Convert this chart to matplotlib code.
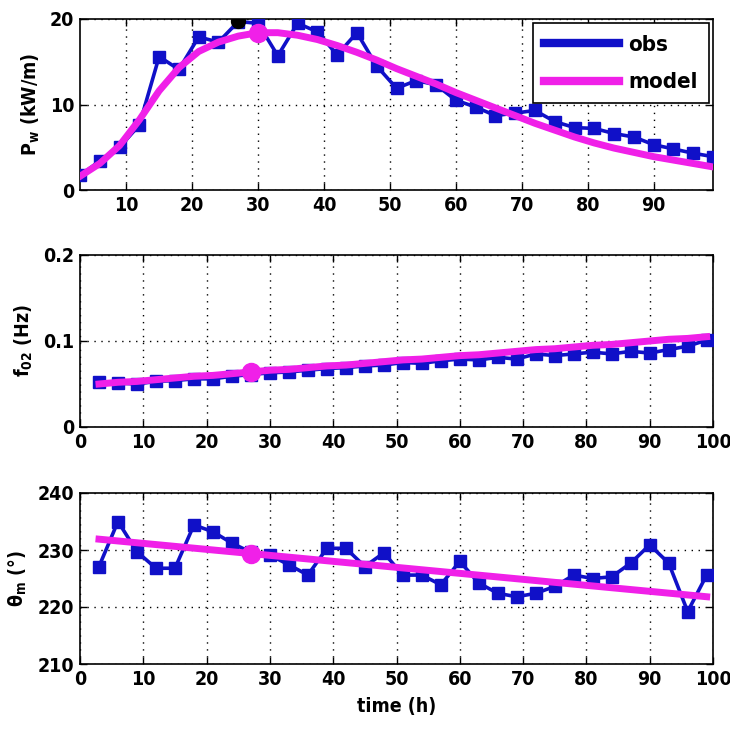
import matplotlib
matplotlib.use("Agg")
import matplotlib.pyplot as plt
from matplotlib import font_manager
import numpy as np

# --- data ---
t = np.arange(3, 100, 3)

pw_obs = [1.7, 3.4, 5.0, 7.6, 15.6, 14.1, 17.9, 17.3, 19.7, 19.5, 15.7,
          19.5, 18.5, 15.8, 18.4, 14.5, 11.9, 12.8, 12.3, 10.5, 9.7, 8.7,
          9.0, 9.3, 8.0, 7.3, 7.2, 6.6, 6.2, 5.3, 4.8, 4.3, 3.9]
pw_model = [1.6, 3.1, 5.2, 8.2, 11.6, 14.3, 16.2, 17.3, 18.0, 18.4, 18.4,
            18.1, 17.6, 16.9, 16.1, 15.2, 14.2, 13.3, 12.4, 11.4, 10.5,
            9.6, 8.7, 7.8, 7.0, 6.2, 5.5, 4.9, 4.4, 3.9, 3.5, 3.1, 2.7]

f02_obs = [0.052, 0.051, 0.050, 0.053, 0.054, 0.056, 0.056, 0.059, 0.061,
           0.063, 0.064, 0.066, 0.068, 0.069, 0.071, 0.072, 0.075, 0.074,
           0.077, 0.079, 0.078, 0.081, 0.079, 0.085, 0.083, 0.085, 0.087,
           0.085, 0.088, 0.086, 0.090, 0.094, 0.101]
f02_model = [0.050, 0.052, 0.053, 0.055, 0.057, 0.059, 0.060, 0.062, 0.064,
             0.066, 0.067, 0.069, 0.071, 0.072, 0.074, 0.076, 0.078, 0.079,
             0.081, 0.083, 0.084, 0.086, 0.088, 0.090, 0.091, 0.093, 0.095,
             0.096, 0.098, 0.100, 0.102, 0.103, 0.105]

th_obs = [227.1, 235.0, 229.7, 226.8, 226.8, 234.4, 233.2, 231.2, 229.6,
          229.1, 227.4, 225.6, 230.3, 230.3, 227.1, 229.5, 225.6, 225.6,
          223.9, 228.0, 224.2, 222.4, 221.8, 222.4, 223.6, 225.6, 225.0,
          225.3, 227.7, 230.9, 227.7, 219.2, 225.6]
th_start, th_end = 231.9, 221.8

peak_pw = (27, 19.8)
mark_t = [30, 27, 27]
mark_v = [18.4, 0.0635, 229.3]

# --- styling ---
BLUE = '#1010c8'
MAG = '#f020e8'

# narrow bold face if there is one, else plain bold
names = {f.name for f in font_manager.fontManager.ttflist}
condensed = any(f.name == 'DejaVu Sans' and f.stretch == 'condensed'
                for f in font_manager.fontManager.ttflist)
if 'Liberation Sans Narrow' in names:
    FONT = ['Liberation Sans Narrow', 'DejaVu Sans']
    STRETCH = 'normal'
    FS = 15
elif condensed:
    FONT = ['DejaVu Sans']
    STRETCH = 'condensed'
    FS = 14
else:
    FONT = ['Liberation Sans', 'DejaVu Sans']
    STRETCH = 'normal'
    FS = 13

plt.rcParams['font.family'] = FONT
plt.rcParams['font.stretch'] = STRETCH
plt.rcParams['font.weight'] = 'bold'
plt.rcParams['axes.labelweight'] = 'bold'
plt.rcParams['font.size'] = FS
plt.rcParams['mathtext.fontset'] = 'custom'
plt.rcParams['mathtext.rm'] = FONT[0] + ':bold'
plt.rcParams['mathtext.bf'] = FONT[0] + ':bold'

W, H = 730, 731
fig = plt.figure(figsize=(W / 100, H / 100), dpi=100)

def box(top, bottom, left=80, right=713):
    return [left / W, 1 - bottom / H, (right - left) / W, (bottom - top) / H]

ax1 = fig.add_axes(box(19, 190))
ax2 = fig.add_axes(box(255, 427))
ax3 = fig.add_axes(box(493, 664))

th_model = np.interp(t, [t[0], t[-1]], [th_start, th_end])

series = [
    (ax1, pw_obs, pw_model),
    (ax2, f02_obs, f02_model),
    (ax3, th_obs, th_model),
]
for i, (ax, obs, mod) in enumerate(series):
    ax.plot(t, obs, '-s', color=BLUE, lw=2.6, ms=8.5, mec=BLUE, mfc=BLUE, label='obs', zorder=3)
    ax.plot(t, mod, '-', color=MAG, lw=5, label='model', zorder=4)
    ax.plot(mark_t[i], mark_v[i], 'o', color=MAG, ms=13, zorder=5)
    ax.grid(True, color='black', linestyle=(0, (1, 4)), linewidth=1.0)
    ax.tick_params(direction='in', length=5, width=1, top=True, right=True,
                   labelsize=FS, pad=4)
    for s in ax.spines.values():
        s.set_linewidth(1.2)

ax1.plot(*peak_pw, 'o', color='black', ms=10, zorder=6)

ax1.set_xlim(3, 99)
ax1.set_xticks(range(10, 100, 10))
ax1.set_ylim(0, 20)
ax1.set_yticks([0, 10, 20])
ax1.set_ylabel(r'P$_\mathrm{w}$ (kW/m)', labelpad=6)

ax2.set_xlim(0, 100)
ax2.set_xticks(range(0, 101, 10))
ax2.set_ylim(0, 0.2)
ax2.set_yticks([0, 0.1, 0.2])
ax2.set_yticklabels(['0', '0.1', '0.2'])
ax2.set_ylabel(r'f$_\mathrm{02}$ (Hz)', labelpad=6)

ax3.set_xlim(0, 100)
ax3.set_xticks(range(0, 101, 10))
ax3.set_ylim(210, 240)
ax3.set_yticks([210, 220, 230, 240])
ax3.set_ylabel(r'θ$_\mathrm{m}$ (°)', labelpad=6)
ax3.set_xlabel('time (h)', labelpad=6)

leg = ax1.legend(loc='upper right', fontsize=FS + 2, handlelength=3.4,
                 framealpha=1, edgecolor='black', fancybox=False,
                 borderaxespad=0.2, handletextpad=0.4, labelspacing=0.8,
                 borderpad=0.5)
leg.get_frame().set_linewidth(1.2)
for ln in leg.get_lines():
    ln.set_linewidth(6)
    ln.set_marker('')

fig.savefig('out.png', dpi=100)
